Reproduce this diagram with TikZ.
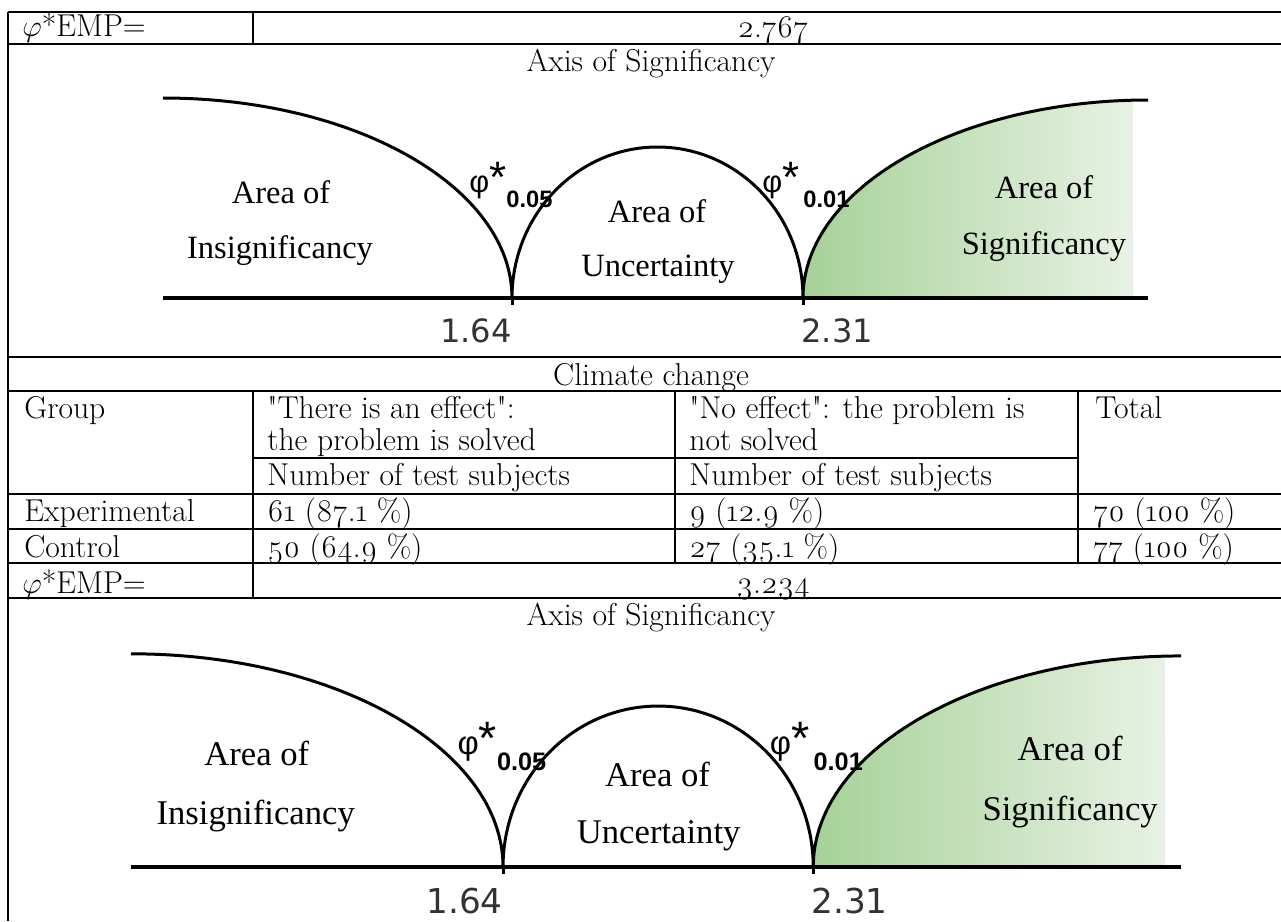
\documentclass[tikz,border=0pt]{standalone}
\usepackage{fontspec}
\setmainfont[Numbers=OldStyle]{Latin Modern Roman}
\newfontfamily\plainrm{Latin Modern Roman}
\newfontfamily\figserif{Liberation Serif}
\newfontfamily\figsans{Liberation Sans}
\newfontfamily\ticksans{DejaVu Sans}
\definecolor{sigdark}{RGB}{166,209,152}
\definecolor{sigmid}{RGB}{206,229,198}
\definecolor{siglight}{RGB}{232,242,228}
\definecolor{tickgray}{HTML}{333333}
\newcommand{\tabfont}{\fontsize{18}{21}\selectfont}
\newcommand{\qq}{{\plainrm"}}
\newcommand{\critstar}{{\fontsize{25}{25}\selectfont*}}

% one axis of significancy, drawn from the left end of its base line
\newcommand{\sigaxis}[1]{%
  \shade[left color=sigdark,middle color=sigmid,right color=siglight]
    (640,0) arc[start angle=180,end angle=267.5,x radius=345,y radius=198] -- (970,0) -- cycle;
  \draw[curve] (0,-200) arc[start angle=270,end angle=360,x radius=349,y radius=200]
    arc[start angle=180,end angle=360,x radius=145.5,y radius=151]
    arc[start angle=180,end angle=270,x radius=345,y radius=198];
  \draw[curve] (349,0) -- (349,7);
  \draw[curve] (640,0) -- (640,7);
  \draw[axisline] (0,0) -- (985,0);
  \node[area] (#1-ins1) at (118,-95) {Area of};
  \node[area] (#1-ins2) at (117,-40) {Insignificancy};
  \node[area] (#1-unc1) at (494,-76) {Area of};
  \node[area] (#1-unc2) at (495,-22) {Uncertainty};
  \node[area] (#1-sig1) at (881,-100) {Area of};
  \node[area] (#1-sig2) at (881,-44) {Significancy};
  \node[crit] (#1-p05) at (306,-106) {φ\critstar};
  \node[critsub] (#1-s05) at (343,-91) {0.05};
  \node[crit] (#1-p01) at (599,-106) {φ\critstar};
  \node[critsub] (#1-s01) at (640,-91) {0.01};
  \node[tick,anchor=base east] (#1-t164) at (349,44) {1.64};
  \node[tick,anchor=base west] (#1-t231) at (638,44) {2.31};
}

\begin{document}
\begin{tikzpicture}[x=0.02cm,y=-0.02cm,
  rule/.style={line width=0.9pt},
  cell/.style={anchor=base west,inner sep=0pt,font=\tabfont},
  mid/.style={anchor=base,inner sep=0pt,font=\tabfont},
  curve/.style={line width=1.7pt},
  axisline/.style={line width=2.4pt},
  area/.style={anchor=base,inner sep=0pt,font=\figserif\fontsize{18.5}{20}\selectfont},
  crit/.style={anchor=base west,inner sep=0pt,font=\figsans\fontsize{17.5}{20}\selectfont},
  critsub/.style={anchor=base west,inner sep=0pt,font=\figsans\bfseries\fontsize{13.5}{15}\selectfont},
  tick/.style={inner sep=0pt,text=tickgray,font=\ticksans\fontsize{18.3}{20}\selectfont}]
  \useasboundingbox (0,0) rectangle (1281,921);

  % table rules
  \foreach \y in {12,44,357,391,494,529,563,598}
    \draw[rule] (8,\y) -- (1281,\y);
  \draw[rule] (8,12) -- (8,921);
  \draw[rule] (253,12) -- (253,44);
  \draw[rule] (253,391) -- (253,598);
  \draw[rule] (675,391) -- (675,563);
  \draw[rule] (1078,391) -- (1078,563);
  \draw[rule] (253,458) -- (1078,458);

  % table texts
  \node[cell] (phi1) at (22,36) {$\varphi$*EMP=};
  \node[mid] (emp1) at (773,37) {2.767};
  \node[mid] (axis1) at (651,71) {Axis of Significancy};
  \node[mid] (climate) at (651,385) {Climate change};
  \node[cell] (group) at (24,418) {Group};
  \node[cell] (eff1) at (267,418) {\qq There is an effect\qq:};
  \node[cell] (eff2) at (267,450) {the problem is solved};
  \node[cell] (effn) at (267,485) {Number of test subjects};
  \node[cell] (no1) at (689,418) {\qq No effect\qq: the problem is};
  \node[cell] (no2) at (689,450) {not solved};
  \node[cell] (non) at (689,485) {Number of test subjects};
  \node[cell] (total) at (1095,418) {Total};
  \node[cell] (exp) at (24,521) {Experimental};
  \node[cell] (expa) at (267,521) {61 (87.1 \%)};
  \node[cell] (expb) at (689,521) {9 (12.9 \%)};
  \node[cell] (expt) at (1093,521) {70 (100 \%)};
  \node[cell] (con) at (24,557) {Control};
  \node[cell] (cona) at (267,557) {50 (64.9 \%)};
  \node[cell] (conb) at (689,557) {27 (35.1 \%)};
  \node[cell] (cont) at (1093,557) {77 (100 \%)};
  \node[cell] (phi2) at (22,593) {$\varphi$*EMP=};
  \node[mid] (emp2) at (773,593) {3.234};
  \node[mid] (axis2) at (651,625) {Axis of Significancy};

  % the two axes
  \begin{scope}[shift={(163,298)}]
    \sigaxis{a}
  \end{scope}
  \begin{scope}[shift={(131,867)},scale=1.066,transform shape]
    \sigaxis{b}
  \end{scope}
\end{tikzpicture}
\end{document}
